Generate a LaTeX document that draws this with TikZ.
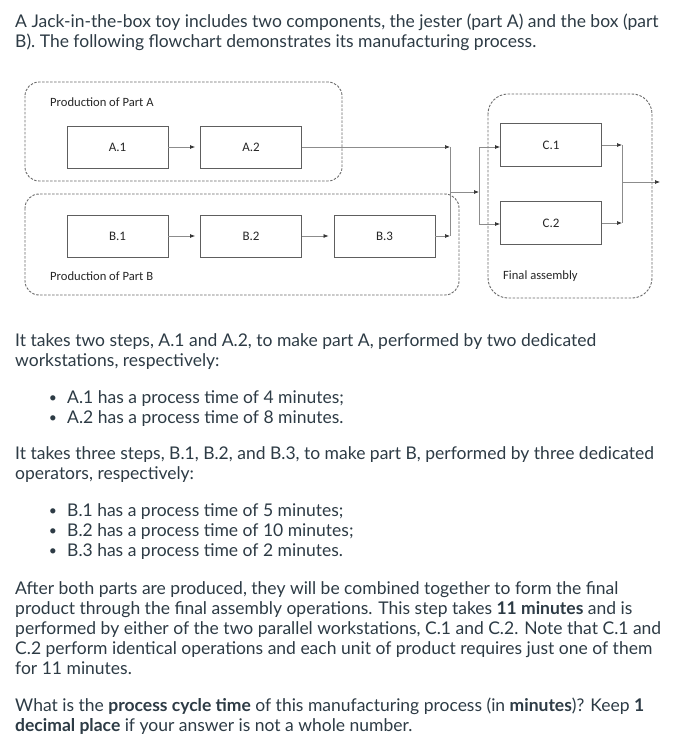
\documentclass[tikz,border=0pt]{standalone}
\usepackage{fontspec}
\setmainfont{Lato}
\newfontfamily\diagfont{Carlito}
\usetikzlibrary{arrows.meta}
\definecolor{txt}{HTML}{2D3B45}
\definecolor{boxline}{HTML}{5E5E5E}
\definecolor{connc}{HTML}{8C8C8C}
\definecolor{dashc}{HTML}{6A6A6A}
\begin{document}
\begin{tikzpicture}[x=1pt,y=-1pt,
  stepbox/.style={draw=boxline, line width=0.9pt, minimum width=101pt, minimum height=42pt, inner sep=0pt, font=\diagfont\fontsize{13}{15}\selectfont, text=black!85},
  group/.style={draw=dashc, line width=0.9pt, dash pattern=on 2.5pt off 1.5pt, rounded corners=14pt},
  conn/.style={draw=connc, line width=0.7pt},
  arr/.style={conn, -{Latex[length=5pt,width=4pt,color=black!80]}},
  para/.style={anchor=base west, inner sep=0pt, font=\fontsize{17.5}{20}\selectfont, text=txt},
  bul/.style={anchor=base, inner sep=0pt, font=\fontsize{14}{20}\selectfont, text=txt},
  glabel/.style={anchor=west, inner sep=0pt, font=\diagfont\fontsize{12.6}{14}\selectfont, text=black!85}]
\useasboundingbox (0,0) rectangle (674,746);
\fill[white] (0,0) rectangle (674,746);

% groups
\draw[group] (25,82) rectangle (342,181);
\draw[group] (25,194) rectangle (459,295);
\draw[group, rounded corners=20pt] (488,94) rectangle (652,298);
\node[glabel] (labA) at (50,102) {Production of Part A};
\node[glabel] (labB) at (50,276) {Production of Part B};
\node[glabel] (labC) at (503,276) {Final assembly};

% steps
\node[stepbox] (A1) at (117.5,147) {A.1};
\node[stepbox] (A2) at (251,147) {A.2};
\node[stepbox] (B1) at (117.5,236) {B.1};
\node[stepbox] (B2) at (251,236) {B.2};
\node[stepbox] (B3) at (384.5,236) {B.3};
\node[stepbox, minimum height=43pt] (C1) at (551,145) {C.1};
\node[stepbox, minimum height=43pt] (C2) at (551,223) {C.2};

% junctions
\coordinate (J1) at (450,147);
\coordinate (J1b) at (450,236);
\coordinate (J1m) at (450,192);
\coordinate (J2m) at (479,192);
\coordinate (J2a) at (479,147);
\coordinate (J2b) at (479,224);
\coordinate (J3a) at (622,145);
\coordinate (J3b) at (622,223);
\coordinate (J3m) at (622,182);
\coordinate (OUT) at (660,182);

% connectors
\draw[arr, shorten >=5pt] (A1) -- (A2);
\draw[arr] (A2) -- (J1);
\draw[arr, shorten >=5pt] (B1) -- (B2);
\draw[arr, shorten >=5pt] (B2) -- (B3);
\draw[arr] (B3) -- (J1b);
\draw[conn] (J1) -- (J1b);
\draw[arr] (J1m) -- (J2m);
\draw[conn] (J2a) -- (J2b);
\draw[arr] (J2a) -- (J2a -| C1.west);
\draw[arr] (J2b) -- (J2b -| C2.west);
\draw[arr] (C1) -- (J3a);
\draw[arr] (C2) -- (J3b);
\draw[conn] (J3a) -- (J3b);
\draw[arr] (J3m) -- (OUT);

% text
\node[para] (t1) at (15,28) {A Jack-in-the-box toy includes two components, the jester (part A) and the box (part};
\node[para] (t2) at (15,48) {B). The following flowchart demonstrates its manufacturing process.};
\node[para] (t3) at (15,346) {It takes two steps, A.1 and A.2, to make part A, performed by two dedicated};
\node[para] (t4) at (15,366) {workstations, respectively:};
\node[bul] (b1) at (53,402) {•};
\node[para] (t5) at (67,403) {A.1 has a process time of 4 minutes;};
\node[bul] (b2) at (53,422) {•};
\node[para] (t6) at (67,423) {A.2 has a process time of 8 minutes.};
\node[para] (t7) at (15,459) {It takes three steps, B.1, B.2, and B.3, to make part B, performed by three dedicated};
\node[para] (t8) at (15,479) {operators, respectively:};
\node[bul] (b3) at (53,515) {•};
\node[para] (t9) at (67,516) {B.1 has a process time of 5 minutes;};
\node[bul] (b4) at (53,535) {•};
\node[para] (t10) at (67,536) {B.2 has a process time of 10 minutes;};
\node[bul] (b5) at (53,555) {•};
\node[para] (t11) at (67,556) {B.3 has a process time of 2 minutes.};
\node[para] (t12) at (15,594) {After both parts are produced, they will be combined together to form the final};
\node[para] (t13) at (15,614) {product through the final assembly operations. This step takes \textbf{11 minutes} and is};
\node[para] (t14) at (15,634) {performed by either of the two parallel workstations, C.1 and C.2. Note that C.1 and};
\node[para] (t15) at (15,654) {C.2 perform identical operations and each unit of product requires just one of them};
\node[para] (t16) at (15,674) {for 11 minutes.};
\node[para] (t17) at (15,711) {What is the \textbf{process cycle time} of this manufacturing process (in \textbf{minutes})? Keep \textbf{1}};
\node[para] (t18) at (15,731) {\textbf{decimal place} if your answer is not a whole number.};
\end{tikzpicture}
\end{document}
